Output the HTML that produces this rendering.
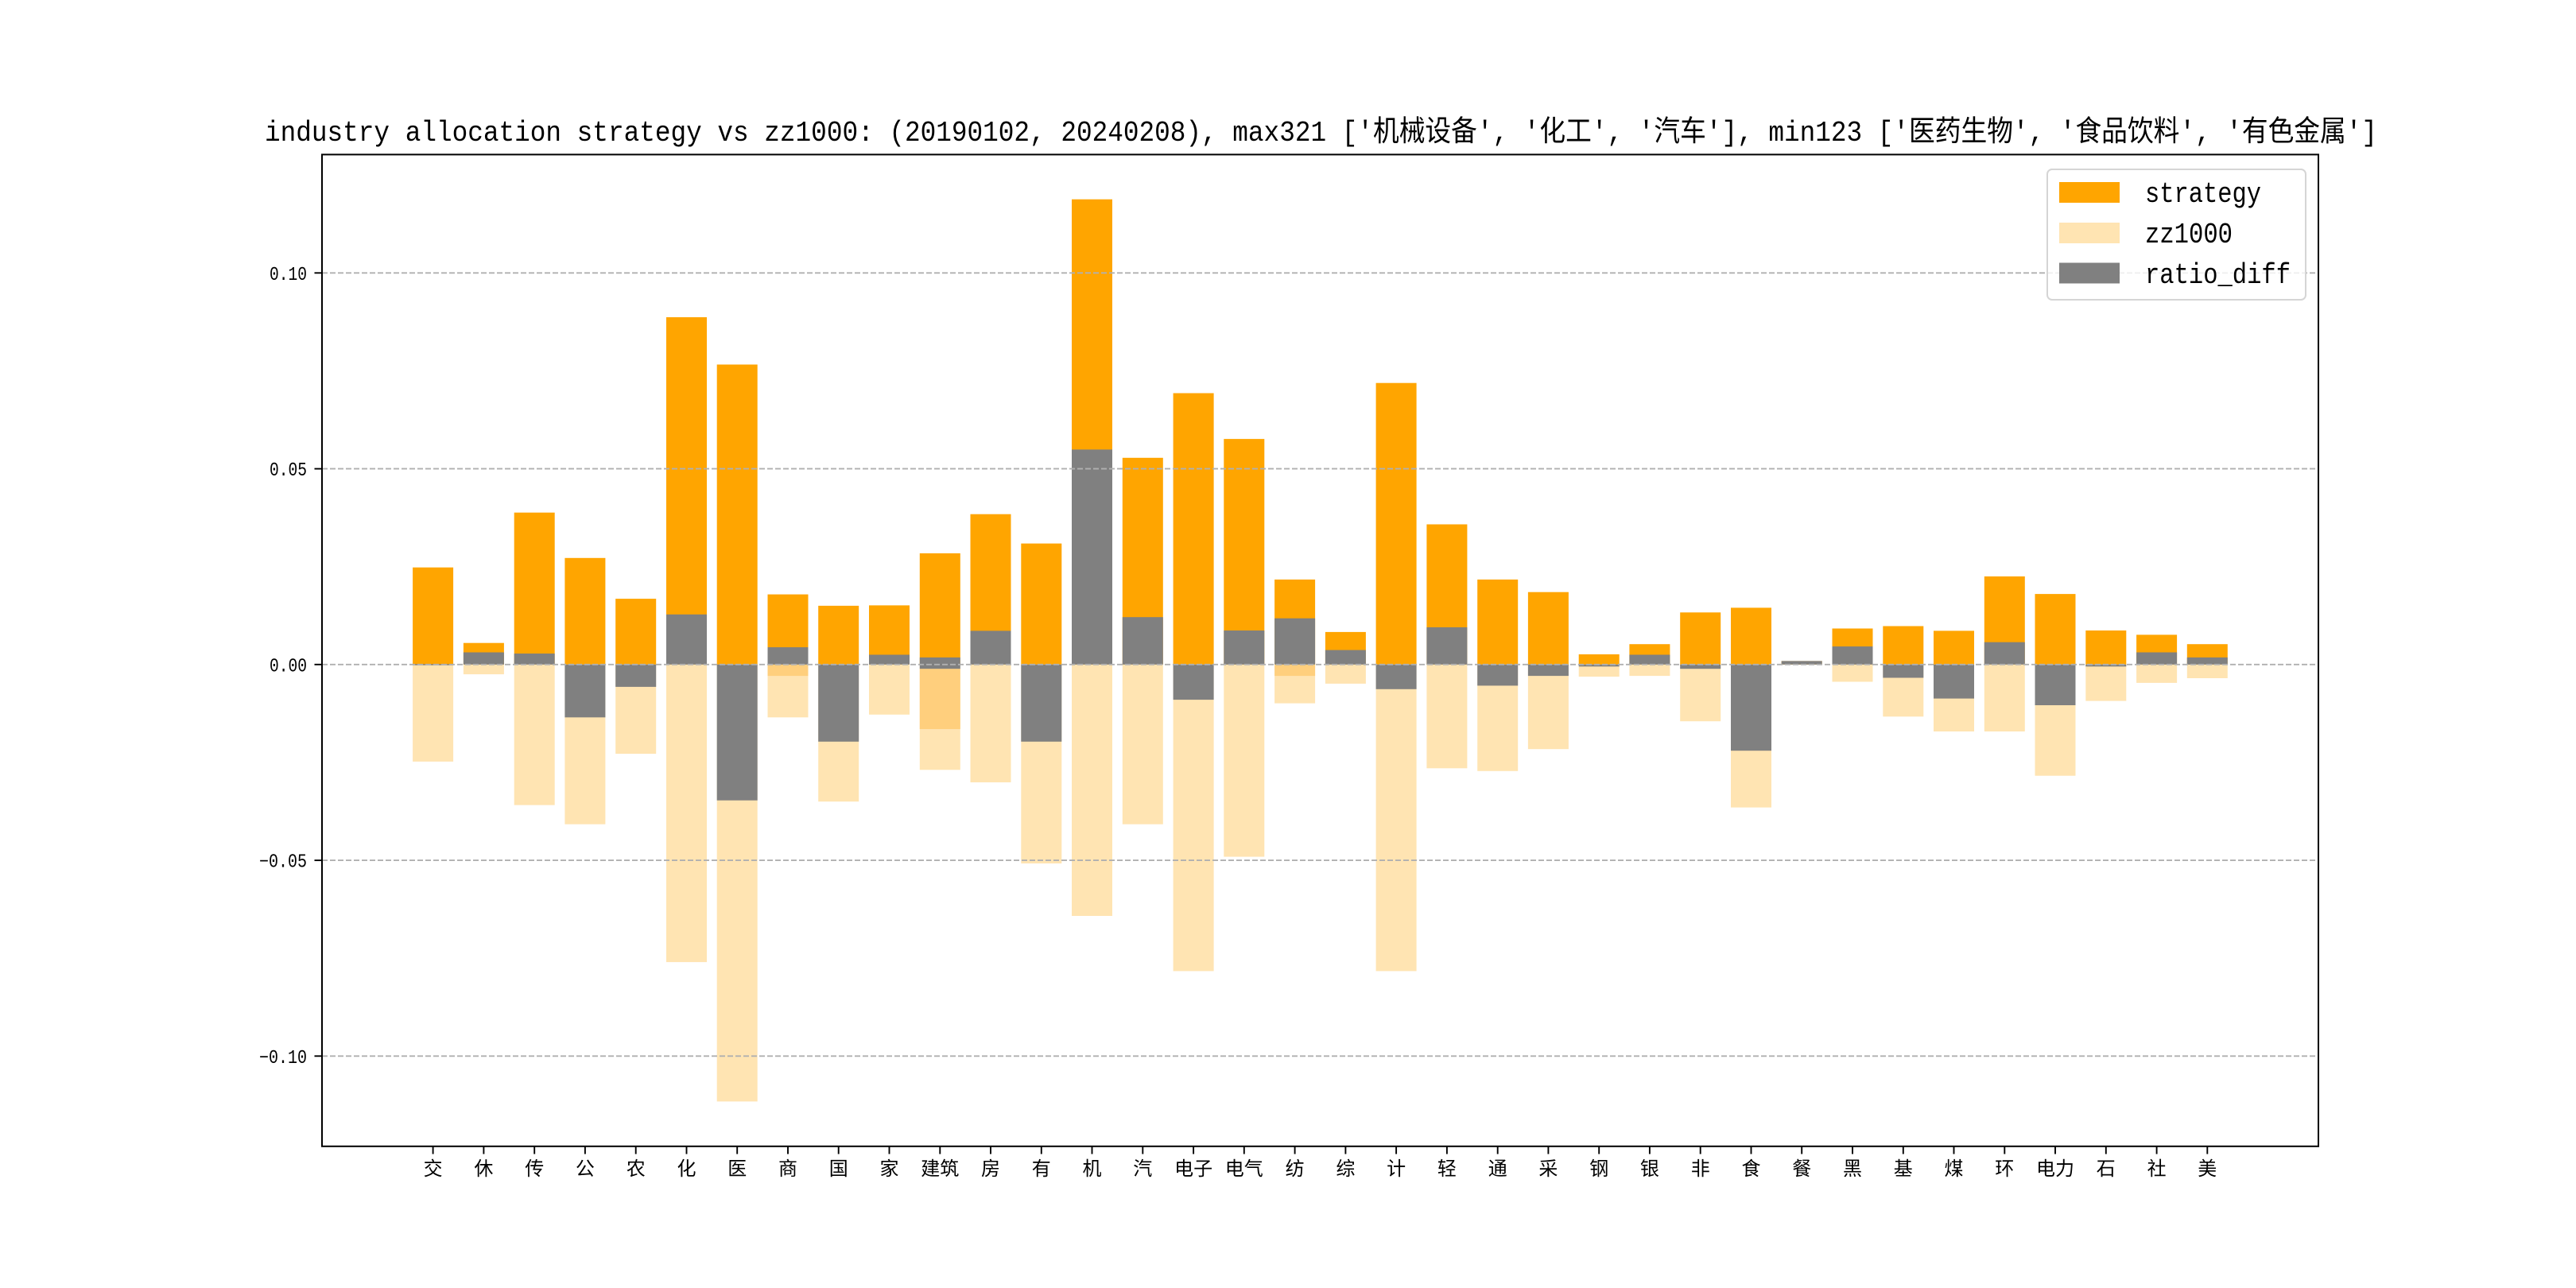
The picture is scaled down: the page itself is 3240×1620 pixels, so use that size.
<!DOCTYPE html>
<html>
<head>
<meta charset="utf-8">
<style>
html,body{margin:0;padding:0;background:#fff;}
svg{display:block;}
.t{font-family:"Liberation Mono","Noto Sans CJK SC",monospace;}
.c{font-family:"Liberation Sans","Noto Sans CJK SC",sans-serif;}
</style>
</head>
<body>
<svg width="3240" height="1620" viewBox="0 0 3240 1620" xmlns="http://www.w3.org/2000/svg">
<rect x="0" y="0" width="3240" height="1620" fill="#ffffff"/>

<!-- title -->
<text class="t" x="333" y="177" font-size="36.5" fill="#000" textLength="2657" lengthAdjust="spacingAndGlyphs">industry allocation strategy vs zz1000: (20190102, 20240208), max321 ['机械设备', '化工', '汽车'], min123 ['医药生物', '食品饮料', '有色金属']</text>

<!-- strategy bars -->
<g fill="#FFA500">
<rect x="519.1" y="713.7" width="51" height="122.1"/>
<rect x="582.9" y="808.7" width="51" height="27.1"/>
<rect x="646.7" y="644.7" width="51" height="191.1"/>
<rect x="710.4" y="701.8" width="51" height="134.0"/>
<rect x="774.2" y="753.1" width="51" height="82.7"/>
<rect x="838.0" y="399.0" width="51" height="436.8"/>
<rect x="901.7" y="458.5" width="51" height="377.3"/>
<rect x="965.5" y="747.6" width="51" height="88.2"/>
<rect x="1029.2" y="761.9" width="51" height="73.9"/>
<rect x="1093.0" y="761.4" width="51" height="74.4"/>
<rect x="1156.8" y="695.9" width="51" height="139.9"/>
<rect x="1220.5" y="646.7" width="51" height="189.1"/>
<rect x="1284.3" y="683.6" width="51" height="152.2"/>
<rect x="1348.0" y="250.7" width="51" height="585.1"/>
<rect x="1411.8" y="575.8" width="51" height="260.0"/>
<rect x="1475.6" y="494.5" width="51" height="341.3"/>
<rect x="1539.3" y="552.1" width="51" height="283.7"/>
<rect x="1603.1" y="728.9" width="51" height="106.9"/>
<rect x="1666.9" y="794.9" width="51" height="40.9"/>
<rect x="1730.6" y="481.7" width="51" height="354.1"/>
<rect x="1794.4" y="659.5" width="51" height="176.3"/>
<rect x="1858.2" y="728.9" width="51" height="106.9"/>
<rect x="1921.9" y="744.7" width="51" height="91.1"/>
<rect x="1985.7" y="823.0" width="51" height="12.8"/>
<rect x="2049.4" y="810.2" width="51" height="25.6"/>
<rect x="2113.2" y="770.3" width="51" height="65.5"/>
<rect x="2177.0" y="764.4" width="51" height="71.4"/>
<rect x="2240.7" y="831.4" width="51" height="4.4"/>
<rect x="2304.5" y="790.5" width="51" height="45.3"/>
<rect x="2368.3" y="787.5" width="51" height="48.3"/>
<rect x="2432.0" y="793.4" width="51" height="42.4"/>
<rect x="2495.8" y="725.0" width="51" height="110.8"/>
<rect x="2559.5" y="747.1" width="51" height="88.7"/>
<rect x="2623.3" y="793.0" width="51" height="42.8"/>
<rect x="2687.1" y="798.4" width="51" height="37.4"/>
<rect x="2750.8" y="810.2" width="51" height="25.6"/>
</g>

<!-- zz1000 bars -->
<g fill="#FFE4B2">
<rect x="519.1" y="835.8" width="51" height="122.1"/>
<rect x="582.9" y="835.8" width="51" height="12.3"/>
<rect x="646.7" y="835.8" width="51" height="176.8"/>
<rect x="710.4" y="835.8" width="51" height="200.9"/>
<rect x="774.2" y="835.8" width="51" height="112.3"/>
<rect x="838.0" y="835.8" width="51" height="374.3"/>
<rect x="901.7" y="835.8" width="51" height="549.6"/>
<rect x="965.5" y="835.8" width="51" height="66.5"/>
<rect x="1029.2" y="835.8" width="51" height="172.4"/>
<rect x="1093.0" y="835.8" width="51" height="63.0"/>
<rect x="1156.8" y="835.8" width="51" height="132.5"/>
<rect x="1220.5" y="835.8" width="51" height="148.2"/>
<rect x="1284.3" y="835.8" width="51" height="250.2"/>
<rect x="1348.0" y="835.8" width="51" height="316.2"/>
<rect x="1411.8" y="835.8" width="51" height="200.9"/>
<rect x="1475.6" y="835.8" width="51" height="385.6"/>
<rect x="1539.3" y="835.8" width="51" height="241.8"/>
<rect x="1603.1" y="835.8" width="51" height="48.8"/>
<rect x="1666.9" y="835.8" width="51" height="24.1"/>
<rect x="1730.6" y="835.8" width="51" height="385.6"/>
<rect x="1794.4" y="835.8" width="51" height="130.5"/>
<rect x="1858.2" y="835.8" width="51" height="134.0"/>
<rect x="1921.9" y="835.8" width="51" height="106.4"/>
<rect x="1985.7" y="835.8" width="51" height="15.3"/>
<rect x="2049.4" y="835.8" width="51" height="14.3"/>
<rect x="2113.2" y="835.8" width="51" height="71.4"/>
<rect x="2177.0" y="835.8" width="51" height="179.8"/>
<rect x="2304.5" y="835.8" width="51" height="21.7"/>
<rect x="2368.3" y="835.8" width="51" height="65.5"/>
<rect x="2432.0" y="835.8" width="51" height="84.2"/>
<rect x="2495.8" y="835.8" width="51" height="84.2"/>
<rect x="2559.5" y="835.8" width="51" height="139.9"/>
<rect x="2623.3" y="835.8" width="51" height="45.8"/>
<rect x="2687.1" y="835.8" width="51" height="23.1"/>
<rect x="2750.8" y="835.8" width="51" height="17.2"/>
</g>

<!-- overlapping zz1000 regions -->
<g fill="#FFCF7D">
<rect x="965.5" y="835.8" width="51" height="14.3"/>
<rect x="1156.8" y="841.2" width="51" height="75.8"/>
<rect x="1603.1" y="835.8" width="51" height="14.3"/>
</g>

<!-- ratio_diff bars -->
<g fill="#808080">
<rect x="519.1" y="835.3" width="51" height="1.4"/>
<rect x="582.9" y="820.5" width="51" height="15.3"/>
<rect x="646.7" y="822.0" width="51" height="13.8"/>
<rect x="710.4" y="835.8" width="51" height="66.5"/>
<rect x="774.2" y="835.8" width="51" height="28.1"/>
<rect x="838.0" y="772.8" width="51" height="63.0"/>
<rect x="901.7" y="835.8" width="51" height="170.9"/>
<rect x="965.5" y="814.1" width="51" height="21.7"/>
<rect x="1029.2" y="835.8" width="51" height="97.0"/>
<rect x="1093.0" y="823.5" width="51" height="12.3"/>
<rect x="1156.8" y="826.9" width="51" height="14.3"/>
<rect x="1220.5" y="793.4" width="51" height="42.4"/>
<rect x="1284.3" y="835.8" width="51" height="97.0"/>
<rect x="1348.0" y="565.4" width="51" height="270.4"/>
<rect x="1411.8" y="776.2" width="51" height="59.6"/>
<rect x="1475.6" y="835.8" width="51" height="44.3"/>
<rect x="1539.3" y="793.0" width="51" height="42.8"/>
<rect x="1603.1" y="777.7" width="51" height="58.1"/>
<rect x="1666.9" y="817.6" width="51" height="18.2"/>
<rect x="1730.6" y="835.8" width="51" height="31.0"/>
<rect x="1794.4" y="789.0" width="51" height="46.8"/>
<rect x="1858.2" y="835.8" width="51" height="26.6"/>
<rect x="1921.9" y="835.8" width="51" height="14.3"/>
<rect x="1985.7" y="835.8" width="51" height="2.5"/>
<rect x="2049.4" y="823.5" width="51" height="12.3"/>
<rect x="2113.2" y="835.8" width="51" height="5.4"/>
<rect x="2177.0" y="835.8" width="51" height="108.4"/>
<rect x="2240.7" y="831.4" width="51" height="4.4"/>
<rect x="2304.5" y="813.1" width="51" height="22.7"/>
<rect x="2368.3" y="835.8" width="51" height="16.7"/>
<rect x="2432.0" y="835.8" width="51" height="42.8"/>
<rect x="2495.8" y="807.7" width="51" height="28.1"/>
<rect x="2559.5" y="835.8" width="51" height="51.2"/>
<rect x="2623.3" y="835.8" width="51" height="2.5"/>
<rect x="2687.1" y="820.5" width="51" height="15.3"/>
<rect x="2750.8" y="826.9" width="51" height="8.9"/>
</g>

<!-- grid -->
<g stroke="#b0b0b0" stroke-width="1.9" stroke-dasharray="7 3" fill="none">
<line x1="405" y1="343.3" x2="2916" y2="343.3"/>
<line x1="405" y1="589.6" x2="2916" y2="589.6"/>
<line x1="405" y1="835.8" x2="2916" y2="835.8"/>
<line x1="405" y1="1082.1" x2="2916" y2="1082.1"/>
<line x1="405" y1="1328.3" x2="2916" y2="1328.3"/>
</g>

<!-- spines -->
<rect x="405" y="194.4" width="2511" height="1247.4" fill="none" stroke="#000" stroke-width="2"/>

<!-- y ticks -->
<g stroke="#000" stroke-width="1.9">
<line x1="395.5" y1="343.3" x2="405" y2="343.3"/>
<line x1="395.5" y1="589.6" x2="405" y2="589.6"/>
<line x1="395.5" y1="835.8" x2="405" y2="835.8"/>
<line x1="395.5" y1="1082.1" x2="405" y2="1082.1"/>
<line x1="395.5" y1="1328.3" x2="405" y2="1328.3"/>
</g>
<g class="t" font-size="24" fill="#000" text-anchor="end">
<text x="386" y="351.8" textLength="47" lengthAdjust="spacingAndGlyphs">0.10</text>
<text x="386" y="598.1" textLength="47" lengthAdjust="spacingAndGlyphs">0.05</text>
<text x="386" y="844.3" textLength="47" lengthAdjust="spacingAndGlyphs">0.00</text>
<text x="386" y="1090.6" textLength="60" lengthAdjust="spacingAndGlyphs">−0.05</text>
<text x="386" y="1336.8" textLength="60" lengthAdjust="spacingAndGlyphs">−0.10</text>
</g>

<!-- x ticks -->
<g stroke="#000" stroke-width="1.9">
<line x1="544.6" y1="1441.8" x2="544.6" y2="1451.5"/>
<line x1="608.4" y1="1441.8" x2="608.4" y2="1451.5"/>
<line x1="672.2" y1="1441.8" x2="672.2" y2="1451.5"/>
<line x1="735.9" y1="1441.8" x2="735.9" y2="1451.5"/>
<line x1="799.7" y1="1441.8" x2="799.7" y2="1451.5"/>
<line x1="863.5" y1="1441.8" x2="863.5" y2="1451.5"/>
<line x1="927.2" y1="1441.8" x2="927.2" y2="1451.5"/>
<line x1="991.0" y1="1441.8" x2="991.0" y2="1451.5"/>
<line x1="1054.7" y1="1441.8" x2="1054.7" y2="1451.5"/>
<line x1="1118.5" y1="1441.8" x2="1118.5" y2="1451.5"/>
<line x1="1182.3" y1="1441.8" x2="1182.3" y2="1451.5"/>
<line x1="1246.0" y1="1441.8" x2="1246.0" y2="1451.5"/>
<line x1="1309.8" y1="1441.8" x2="1309.8" y2="1451.5"/>
<line x1="1373.5" y1="1441.8" x2="1373.5" y2="1451.5"/>
<line x1="1437.3" y1="1441.8" x2="1437.3" y2="1451.5"/>
<line x1="1501.1" y1="1441.8" x2="1501.1" y2="1451.5"/>
<line x1="1564.8" y1="1441.8" x2="1564.8" y2="1451.5"/>
<line x1="1628.6" y1="1441.8" x2="1628.6" y2="1451.5"/>
<line x1="1692.4" y1="1441.8" x2="1692.4" y2="1451.5"/>
<line x1="1756.1" y1="1441.8" x2="1756.1" y2="1451.5"/>
<line x1="1819.9" y1="1441.8" x2="1819.9" y2="1451.5"/>
<line x1="1883.7" y1="1441.8" x2="1883.7" y2="1451.5"/>
<line x1="1947.4" y1="1441.8" x2="1947.4" y2="1451.5"/>
<line x1="2011.2" y1="1441.8" x2="2011.2" y2="1451.5"/>
<line x1="2074.9" y1="1441.8" x2="2074.9" y2="1451.5"/>
<line x1="2138.7" y1="1441.8" x2="2138.7" y2="1451.5"/>
<line x1="2202.5" y1="1441.8" x2="2202.5" y2="1451.5"/>
<line x1="2266.2" y1="1441.8" x2="2266.2" y2="1451.5"/>
<line x1="2330.0" y1="1441.8" x2="2330.0" y2="1451.5"/>
<line x1="2393.8" y1="1441.8" x2="2393.8" y2="1451.5"/>
<line x1="2457.5" y1="1441.8" x2="2457.5" y2="1451.5"/>
<line x1="2521.3" y1="1441.8" x2="2521.3" y2="1451.5"/>
<line x1="2585.0" y1="1441.8" x2="2585.0" y2="1451.5"/>
<line x1="2648.8" y1="1441.8" x2="2648.8" y2="1451.5"/>
<line x1="2712.6" y1="1441.8" x2="2712.6" y2="1451.5"/>
<line x1="2776.3" y1="1441.8" x2="2776.3" y2="1451.5"/>
</g>
<g class="c" font-size="24" fill="#000" text-anchor="middle">
<text x="544.6" y="1478">交</text>
<text x="608.4" y="1478">休</text>
<text x="672.2" y="1478">传</text>
<text x="735.9" y="1478">公</text>
<text x="799.7" y="1478">农</text>
<text x="863.5" y="1478">化</text>
<text x="927.2" y="1478">医</text>
<text x="991.0" y="1478">商</text>
<text x="1054.7" y="1478">国</text>
<text x="1118.5" y="1478">家</text>
<text x="1182.3" y="1478">建筑</text>
<text x="1246.0" y="1478">房</text>
<text x="1309.8" y="1478">有</text>
<text x="1373.5" y="1478">机</text>
<text x="1437.3" y="1478">汽</text>
<text x="1501.1" y="1478">电子</text>
<text x="1564.8" y="1478">电气</text>
<text x="1628.6" y="1478">纺</text>
<text x="1692.4" y="1478">综</text>
<text x="1756.1" y="1478">计</text>
<text x="1819.9" y="1478">轻</text>
<text x="1883.7" y="1478">通</text>
<text x="1947.4" y="1478">采</text>
<text x="2011.2" y="1478">钢</text>
<text x="2074.9" y="1478">银</text>
<text x="2138.7" y="1478">非</text>
<text x="2202.5" y="1478">食</text>
<text x="2266.2" y="1478">餐</text>
<text x="2330.0" y="1478">黑</text>
<text x="2393.8" y="1478">基</text>
<text x="2457.5" y="1478">煤</text>
<text x="2521.3" y="1478">环</text>
<text x="2585.0" y="1478">电力</text>
<text x="2648.8" y="1478">石</text>
<text x="2712.6" y="1478">社</text>
<text x="2776.3" y="1478">美</text>
</g>

<!-- legend -->
<rect x="2575" y="213" width="325" height="164" rx="6" ry="6" fill="#ffffff" fill-opacity="0.8" stroke="#d5d5d5" stroke-width="2"/>
<rect x="2590" y="229" width="76" height="26" fill="#FFA500"/>
<rect x="2590" y="280" width="76" height="26" fill="#FFE4B2"/>
<rect x="2590" y="330.5" width="76" height="26" fill="#808080"/>
<g class="t" font-size="36" fill="#000">
<text x="2698" y="254" textLength="146" lengthAdjust="spacingAndGlyphs">strategy</text>
<text x="2698" y="305" textLength="110" lengthAdjust="spacingAndGlyphs">zz1000</text>
<text x="2698" y="356" textLength="183" lengthAdjust="spacingAndGlyphs">ratio_diff</text>
</g>
</svg>
</body>
</html>
